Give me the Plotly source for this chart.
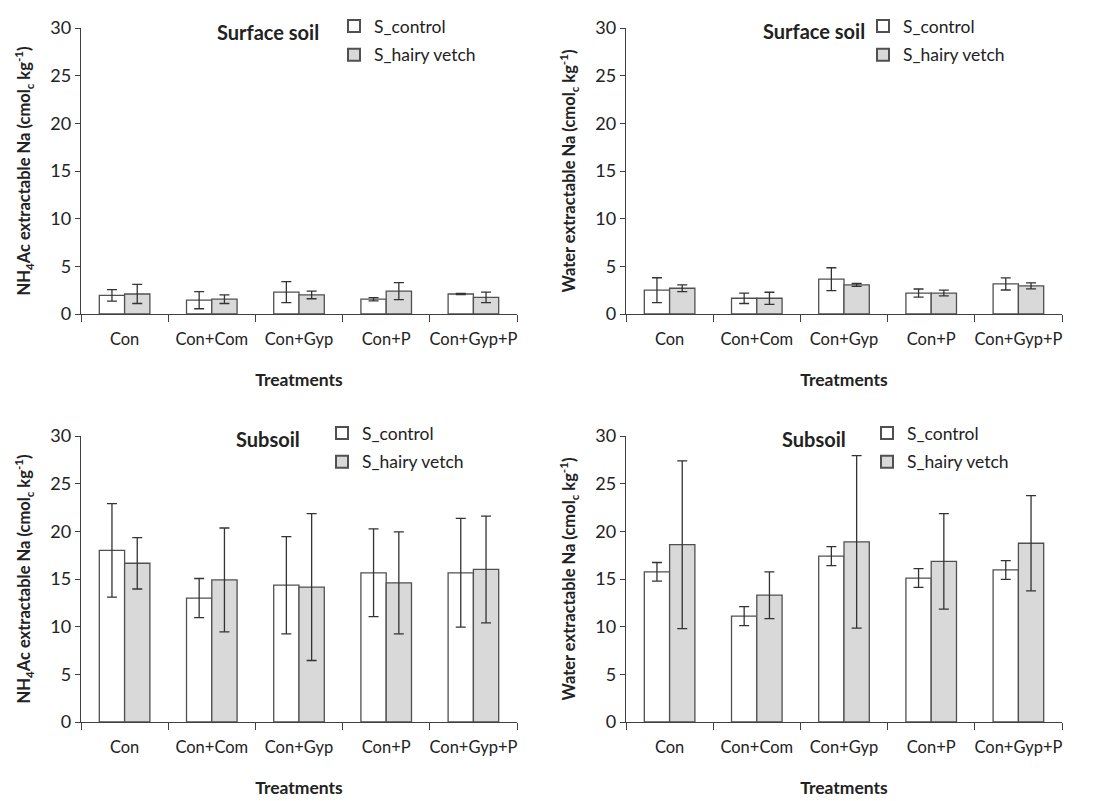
import plotly.graph_objects as go

categories = ["Con", "Con+Com", "Con+Gyp", "Con+P", "Con+Gyp+P"]
series_names = ["S_control", "S_hairy vetch"]

# Panel 1: NH4Ac extractable Na, surface soil
nh4_surf_ctrl = [1.95, 1.45, 2.3, 1.55, 2.1]
nh4_surf_ctrl_err = [0.6, 0.9, 1.1, 0.17, 0.06]
nh4_surf_hv = [2.1, 1.55, 2.0, 2.4, 1.75]
nh4_surf_hv_err = [1.0, 0.45, 0.4, 0.9, 0.55]

# Panel 2: Water extractable Na, surface soil
wat_surf_ctrl = [2.5, 1.65, 3.65, 2.2, 3.15]
wat_surf_ctrl_err = [1.3, 0.55, 1.2, 0.42, 0.63]
wat_surf_hv = [2.7, 1.65, 3.05, 2.2, 2.95]
wat_surf_hv_err = [0.35, 0.63, 0.15, 0.3, 0.32]

# Panel 3: NH4Ac extractable Na, subsoil
nh4_sub_ctrl = [18.0, 13.0, 14.35, 15.65, 15.65]
nh4_sub_ctrl_err = [4.9, 2.05, 5.1, 4.6, 5.7]
nh4_sub_hv = [16.65, 14.9, 14.15, 14.6, 16.0]
nh4_sub_hv_err = [2.7, 5.45, 7.7, 5.35, 5.6]

# Panel 4: Water extractable Na, subsoil
wat_sub_ctrl = [15.75, 11.1, 17.4, 15.1, 15.95]
wat_sub_ctrl_err = [0.98, 1.0, 1.0, 0.98, 0.98]
wat_sub_hv = [18.6, 13.3, 18.9, 16.85, 18.75]
wat_sub_hv_err = [8.8, 2.45, 9.05, 5.0, 5.0]

panel_titles = ["Surface soil", "Surface soil", "Subsoil", "Subsoil"]
y_titles = [
    "NH<sub>4</sub>Ac extractable Na (cmol<sub>c</sub> kg<sup>-1</sup>)",
    "Water extractable Na (cmol<sub>c</sub> kg<sup>-1</sup>)",
    "NH<sub>4</sub>Ac extractable Na (cmol<sub>c</sub> kg<sup>-1</sup>)",
    "Water extractable Na (cmol<sub>c</sub> kg<sup>-1</sup>)",
]
x_title = "Treatments"
y_ticks = [0, 5, 10, 15, 20, 25, 30]

panels = [
    (nh4_surf_ctrl, nh4_surf_ctrl_err, nh4_surf_hv, nh4_surf_hv_err),
    (wat_surf_ctrl, wat_surf_ctrl_err, wat_surf_hv, wat_surf_hv_err),
    (nh4_sub_ctrl, nh4_sub_ctrl_err, nh4_sub_hv, nh4_sub_hv_err),
    (wat_sub_ctrl, wat_sub_ctrl_err, wat_sub_hv, wat_sub_hv_err),
]

W, H = 1099, 801
FONT = "Lato, 'Open Sans', sans-serif"
TXT = "#222222"

# pixel geometry for each panel: (x0, x1, ytop, ybottom)
geom = [(81, 517, 28, 314), (626, 1062, 28, 314), (81, 517, 436, 722), (626, 1062, 436, 722)]
legend_pos = [(334, 8), (863, 8), (322, 415), (867, 415)]
title_pos = [(268, 32), (814, 31), (268, 439), (814, 439)]

fills = ["#ffffff", "#d9d9d9"]
edge = "#505050"

fig = go.Figure()
layout = dict(
    width=W, height=H, margin=dict(l=0, r=0, t=0, b=0, autoexpand=False),
    paper_bgcolor="white", plot_bgcolor="white",
    barmode="group", bargap=0.42, bargroupgap=0.0,
    font=dict(family=FONT, color=TXT, size=16),
    annotations=[],
)

for i, (c, ce, h, he) in enumerate(panels):
    sfx = "" if i == 0 else str(i + 1)
    xa, ya = "x" + sfx, "y" + sfx
    lg = "legend" + sfx
    for name, vals, errs, fill in [(series_names[0], c, ce, fills[0]), (series_names[1], h, he, fills[1])]:
        fig.add_trace(go.Bar(
            x=categories, y=vals, name=name, xaxis=xa, yaxis=ya,
            marker=dict(color=fill, line=dict(color=edge, width=1.3)),
            error_y=dict(type="data", array=errs, visible=True, color="#333333", thickness=1.3, width=5),
            legend=lg, legendgroup=name + sfx,
        ))
    x0, x1, yt, yb = geom[i]
    layout["xaxis" + sfx] = dict(
        domain=[x0 / W, x1 / W], anchor=ya, type="category", automargin=False,
        showline=True, linecolor="#404040", linewidth=1.3,
        ticks="outside", tickson="boundaries", ticklen=7, tickcolor="#404040",
        tickfont=dict(size=16.5, color=TXT), ticklabelstandoff=10, tickangle=0,
        showgrid=False, zeroline=False,
        title=dict(text="<b>" + x_title + "</b>", font=dict(size=17.5, color=TXT), standoff=25),
    )
    layout["yaxis" + sfx] = dict(
        domain=[1 - yb / H, 1 - yt / H], anchor=xa, range=[0, 30], automargin=False,
        tickvals=y_ticks, showline=True, linecolor="#404040", linewidth=1.3,
        ticks="outside", ticklen=5, tickcolor="#404040",
        tickfont=dict(size=18, color=TXT), showgrid=False, zeroline=False,
        title=dict(text="<b>" + y_titles[i] + "</b>", font=dict(size=16.5, color=TXT), standoff=15),
    )
    lx, ly = legend_pos[i]
    layout[lg] = dict(
        x=lx / W, y=1 - ly / H, xanchor="left", yanchor="top",
        bgcolor="rgba(0,0,0,0)", font=dict(size=17.5, color=TXT),
        traceorder="grouped", tracegroupgap=3, itemsizing="constant",
    )
    tx, ty = title_pos[i]
    layout["annotations"].append(dict(
        x=tx / W, y=1 - ty / H, xref="paper", yref="paper",
        text="<b>" + panel_titles[i] + "</b>", showarrow=False,
        font=dict(size=20, color=TXT), xanchor="center", yanchor="middle",
    ))

fig.update_layout(**layout)
fig.write_html("out.html")
